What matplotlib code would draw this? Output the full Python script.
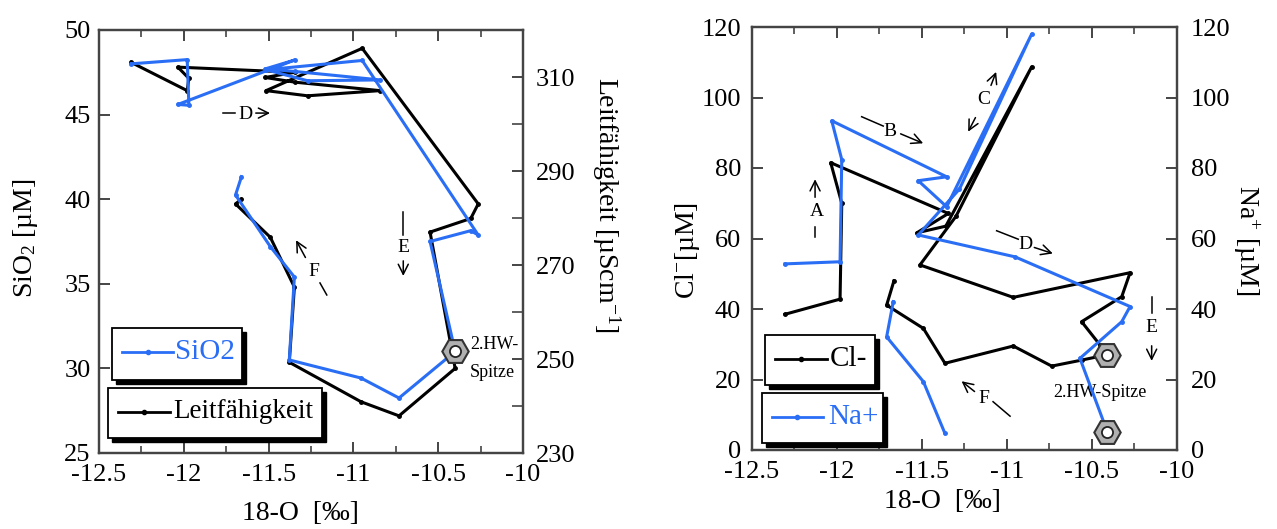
import matplotlib
matplotlib.use("Agg")
import matplotlib.pyplot as plt
import numpy as np
from matplotlib.patches import Rectangle
from matplotlib.ticker import FuncFormatter, MultipleLocator

plt.rcParams['font.family'] = ['Liberation Serif', 'DejaVu Serif']
plt.rcParams['mathtext.fontset'] = 'custom'
plt.rcParams['mathtext.rm'] = 'Liberation Serif'
plt.rcParams['mathtext.it'] = 'Liberation Serif:italic'
plt.rcParams['axes.unicode_minus'] = False

BLUE = '#2a6ef5'

# ---------------- left panel data (18-O, SiO2, conductivity) ----------------
o18_left = [-12.31, -11.98, -11.97, -12.035, -11.345, -11.52, -11.345, -10.843,
            -11.27, -11.515, -10.948, -10.264, -10.308, -10.548, -10.40, -10.731,
            -10.955, -11.378, -11.348, -11.49, -11.695, -11.66]
sio2 = [48.0, 48.25, 45.55, 45.6, 48.23, 47.7, 47.55, 47.05,
        47.0, 47.65, 48.2, 37.88, 38.14, 37.5, 31.0, 28.25,
        29.43, 30.5, 35.4, 37.2, 40.25, 41.33]
leitf = [313.1, 307.1, 309.7, 312.1, 311.0, 309.9, 308.9, 307.1,
         306.0, 307.1, 316.1, 283.0, 279.9, 277.0, 248.0, 237.9,
         240.9, 249.3, 265.3, 275.9, 283.0, 284.0]
hw_left = 14  # index of "2.HW-Spitze"

# ---------------- right panel data (18-O, Cl-, Na+) ----------------
o18_cl = [-12.306, -11.982, -11.972, -12.037, -11.345, -11.531, -11.36, -10.855,
          -11.30, -11.512, -10.963, -10.276, -10.325, -10.561, -10.453, -10.414,
          -10.561, -10.737, -10.963, -11.365, -11.492, -11.708, -11.665]
cl = [38.5, 42.8, 70.0, 81.5, 67.1, 61.6, 63.5, 108.7,
      66.3, 52.5, 43.3, 50.3, 43.5, 36.4, 29.8, 27.0,
      25.5, 23.8, 29.5, 24.6, 34.5, 41.1, 48.0]
hw_cl = 15

o18_na = [-12.306, -11.982, -11.972, -12.031, -11.355, -11.522, -11.355, -10.855,
          -11.28, -11.522, -10.953, -10.276, -10.325, -10.571, -10.41, np.nan,
          -11.365, -11.492, -11.708, -11.669]
na = [52.8, 53.4, 82.4, 93.4, 77.5, 76.4, 69.0, 118.0,
      74.0, 61.0, 54.8, 40.7, 36.4, 26.0, 5.2, np.nan,
      4.7, 19.4, 32.1, 42.1]
hw_na = 14

fig = plt.figure(figsize=(12.77, 5.29), dpi=100)

def px2fig(x, y):
    return x / 1277.0, 1 - y / 529.0

axL = fig.add_axes([99/1277, (529-453)/529, 424/1277, 423/529])
axL2 = axL.twinx()
axR = fig.add_axes([752/1277, (529-450)/529, 425/1277, 423/529])
axR2 = axR.twinx()

fmt = FuncFormatter(lambda v, p: f'{v:g}')
spine_col = '#444444'
for a in (axL, axL2, axR, axR2):
    for s in a.spines.values():
        s.set_color(spine_col)
        s.set_linewidth(1.6)
    a.tick_params(direction='in', length=8, width=1.4, colors=spine_col,
                  labelcolor='black', labelsize=19)
    a.tick_params(which='minor', direction='in', length=5, width=1.2, colors=spine_col)

for a in (axL, axR):
    a.set_xlim(-12.5, -10)
    a.xaxis.set_major_locator(MultipleLocator(0.5))
    a.xaxis.set_minor_locator(MultipleLocator(0.25))
    a.xaxis.set_major_formatter(fmt)
    a.tick_params(which='both', top=True)
    a.tick_params(axis='x', pad=8)

# left panel
axL.set_ylim(25, 50)
axL.yaxis.set_major_locator(MultipleLocator(5))
axL.yaxis.set_major_formatter(fmt)
axL.tick_params(axis='y', pad=6)
axL2.set_ylim(230, 320)
axL2.set_yticks([230, 250, 270, 290, 310])
axL2.yaxis.set_minor_locator(MultipleLocator(10))
axL2.yaxis.set_major_formatter(fmt)
axL2.tick_params(axis='y', which='both', pad=9)
axL2.tick_params(axis='y', which='minor', length=8)

axL2.plot(o18_left, leitf, color='black', lw=2.2, marker='o', ms=2.5, zorder=3)
axL.plot(o18_left, sio2, color=BLUE, lw=2.2, marker='o', ms=2.5, zorder=3)
axL.plot([o18_left[hw_left]], [sio2[hw_left]], marker='H', ms=19, mfc='#b0b0b0',
         mec='#333333', mew=1.5, zorder=5)
axL.plot([o18_left[hw_left]], [sio2[hw_left]], marker='o', ms=8, mfc='white',
         mec='#222222', mew=1.3, zorder=6)
axL.set_zorder(axL2.get_zorder() + 1)
axL.patch.set_visible(False)

# right panel
for a in (axR, axR2):
    a.set_ylim(0, 120)
    a.yaxis.set_major_locator(MultipleLocator(20))
    a.yaxis.set_major_formatter(fmt)
axR.tick_params(axis='y', pad=8)
axR2.tick_params(axis='y', pad=10)
axR.plot(o18_cl, cl, color='black', lw=2.2, marker='o', ms=2.5, zorder=3)
axR2.plot(o18_na, na, color=BLUE, lw=2.2, marker='o', ms=2.5, zorder=3)
for xx, yy in ((o18_cl[hw_cl], cl[hw_cl]), (o18_na[hw_na], na[hw_na])):
    axR2.plot([xx], [yy], marker='H', ms=19, mfc='#b0b0b0', mec='#333333', mew=1.5, zorder=5)
    axR2.plot([xx], [yy], marker='o', ms=8, mfc='white', mec='#222222', mew=1.3, zorder=6)

# axis labels
fs_lab = 20
fig.text(*px2fig(25, 238), 'SiO$_{\\mathrm{2}}$ [µM]', rotation=90, ha='center', va='center', fontsize=fs_lab)
fig.text(*px2fig(606, 205), 'Leitfähigkeit [µScm$^{\\mathrm{-1}}$]', rotation=270, ha='center', va='center', fontsize=fs_lab)
fig.text(*px2fig(300, 514), '18-O  [‰]', ha='center', va='center', fontsize=fs_lab)
fig.text(*px2fig(688, 250), 'Cl$^{\\mathrm{-}}$[µM]', rotation=90, ha='center', va='center', fontsize=fs_lab)
fig.text(*px2fig(1246, 240), 'Na$^{\\mathrm{+}}$ [µM]', rotation=270, ha='center', va='center', fontsize=fs_lab)
fig.text(*px2fig(942, 502), '18-O  [‰]', ha='center', va='center', fontsize=fs_lab)

# annotations
fa = 14
ap = dict(arrowstyle='->', color='black', lw=1.1, mutation_scale=18)
def ann(ax, x0, y0, x1, y1):
    ax.annotate('', xy=(x1, y1), xytext=(x0, y0), arrowprops=ap)
def seg(ax, x0, y0, x1, y1):
    ax.plot([x0, x1], [y0, y1], color='black', lw=1.1)

# left: D, E, F
seg(axL, -11.769, 45.09, -11.698, 45.09)
axL.text(-11.639, 45.0, 'D', fontsize=fa, ha='center', va='center')
ann(axL, -11.592, 45.09, -11.475, 45.09)
seg(axL, -10.706, 39.26, -10.706, 37.88)
axL.text(-10.706, 37.16, 'E', fontsize=fa, ha='center', va='center')
ann(axL, -10.706, 36.52, -10.706, 35.3)
ann(axL, -11.275, 36.41, -11.346, 37.72)
axL.text(-11.236, 35.72, 'F', fontsize=fa, ha='center', va='center')
seg(axL, -11.197, 35.05, -11.157, 34.34)
axL.text(-10.312, 31.44, '2.HW-', fontsize=13, ha='left', va='center')
axL.text(-10.312, 29.73, 'Spitze', fontsize=13, ha='left', va='center')

# right: A-F
axR.text(-12.118, 67.6, 'A', fontsize=fa, ha='center', va='center')
ann(axR, -12.129, 70.9, -12.129, 77.6)
seg(axR, -12.129, 63.3, -12.129, 60.4)
seg(axR, -11.855, 94.55, -11.728, 91.9)
axR.text(-11.688, 90.3, 'B', fontsize=fa, ha='center', va='center')
ann(axR, -11.641, 90.0, -11.478, 86.7)
axR.text(-11.135, 99.3, 'C', fontsize=fa, ha='center', va='center')
ann(axR, -11.100, 102.7, -11.058, 108.0)
ann(axR, -11.178, 95.0, -11.236, 89.6)
seg(axR, -11.061, 62.2, -10.934, 59.8)
axR.text(-10.894, 58.2, 'D', fontsize=fa, ha='center', va='center')
ann(axR, -10.855, 57.7, -10.715, 55.5)
seg(axR, -10.149, 43.5, -10.149, 38.8)
axR.text(-10.149, 34.7, 'E', fontsize=fa, ha='center', va='center')
ann(axR, -10.149, 30.35, -10.149, 24.5)
ann(axR, -11.178, 16.1, -11.28, 20.0)
axR.text(-11.139, 14.7, 'F', fontsize=fa, ha='center', va='center')
seg(axR, -11.082, 13.7, -10.982, 9.6)
axR.text(-10.729, 16.2, '2.HW-Spitze', fontsize=13, ha='left', va='center')

# legend boxes (axes fraction)
def legbox(ax, x0, y0, x1, y1, lx0, lx1, ly, tx, label, color, fs=21):
    sh = Rectangle((x0 + 0.010, y0 - 0.010), x1 - x0, y1 - y0, transform=ax.transAxes,
                   facecolor='black', edgecolor='black', zorder=7, clip_on=False)
    bx = Rectangle((x0, y0), x1 - x0, y1 - y0, transform=ax.transAxes,
                   facecolor='white', edgecolor='black', lw=1.3, zorder=8, clip_on=False)
    ax.add_patch(sh)
    ax.add_patch(bx)
    ax.plot([lx0, (lx0 + lx1) / 2, lx1], [ly, ly, ly], transform=ax.transAxes, color=color,
            lw=2, marker='o', ms=3, markevery=[1], zorder=9)
    ax.text(tx, ly, label, transform=ax.transAxes, color=color, fontsize=fs,
            ha='left', va='center', zorder=10)

legbox(axL, 0.0307, 0.1726, 0.337, 0.2955, 0.054, 0.175, 0.239, 0.180, 'SiO2', BLUE)
legbox(axL, 0.0212, 0.0355, 0.526, 0.1537, 0.045, 0.167, 0.097, 0.176, 'Leitfähigkeit', 'black', fs=19.5)
legbox(axR2, 0.0306, 0.154, 0.289, 0.272, 0.054, 0.176, 0.215, 0.1835, 'Cl-', 'black')
legbox(axR2, 0.0235, 0.0165, 0.308, 0.1348, 0.047, 0.167, 0.078, 0.179, 'Na+', BLUE)

fig.savefig('out.png', dpi=100)
